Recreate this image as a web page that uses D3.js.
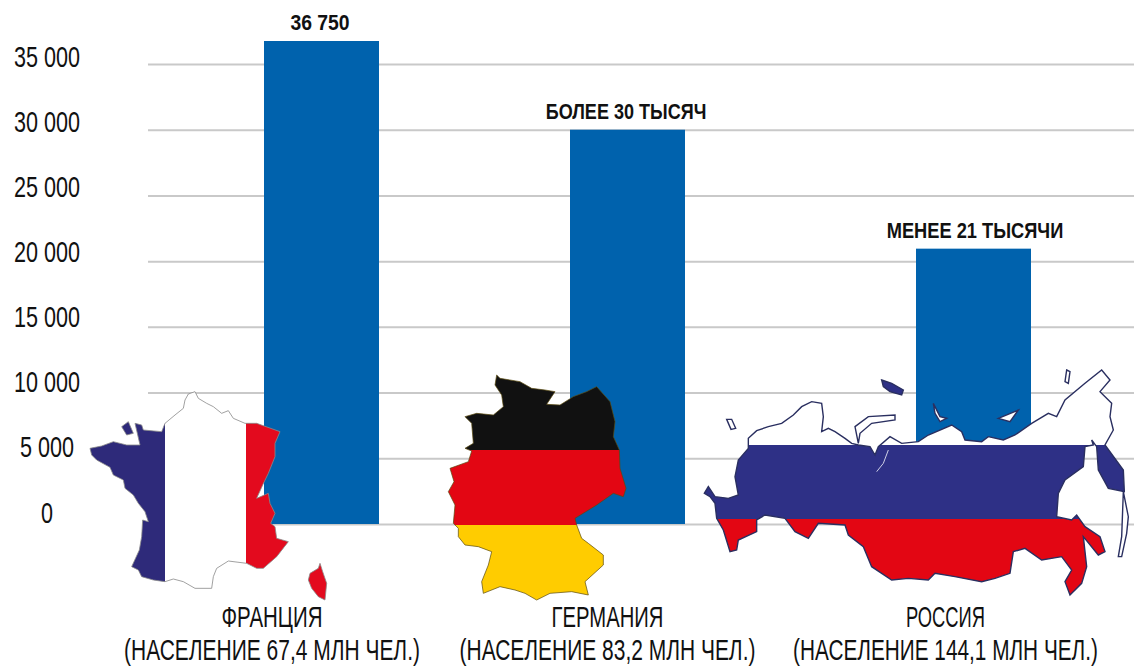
<!DOCTYPE html>
<html><head><meta charset="utf-8">
<script src="https://cdnjs.cloudflare.com/ajax/libs/d3/7.8.5/d3.min.js"></script>
<style>html,body{margin:0;padding:0;background:#fff}svg{display:block}text{font-family:"Liberation Sans",sans-serif}</style>
</head><body><svg id="c" width="1134" height="667"></svg>
<script>
const countries = ["ФРАНЦИЯ", "ГЕРМАНИЯ", "РОССИЯ"];
const population = ["(НАСЕЛЕНИЕ 67,4 МЛН ЧЕЛ.)", "(НАСЕЛЕНИЕ 83,2 МЛН ЧЕЛ.)", "(НАСЕЛЕНИЕ 144,1 МЛН ЧЕЛ.)"];
const values = [36750, 30000, 20950];
const valueLabels = ["36 750", "БОЛЕЕ 30 ТЫСЯЧ", "МЕНЕЕ 21 ТЫСЯЧИ"];
const tickValues = [0, 5000, 10000, 15000, 20000, 25000, 30000, 35000];

const franceOutline = [[345,35],[325,42],[315,60],[310,85],[285,105],[255,130],[245,155],[190,150],[185,135],[165,130],[172,160],[180,195],[140,195],[100,185],[65,198],[30,205],[35,225],[50,240],[90,262],[100,285],[130,300],[135,325],[160,345],[175,370],[195,395],[205,425],[188,420],[185,470],[178,510],[155,560],[175,570],[185,590],[220,600],[255,605],[280,597],[310,605],[345,625],[395,625],[400,590],[410,565],[445,543],[500,550],[530,565],[550,565],[590,530],[625,485],[590,475],[585,440],[572,430],[585,400],[570,370],[565,340],[530,355],[548,315],[565,280],[585,230],[585,190],[600,155],[530,130],[495,130],[460,115],[445,92],[425,100],[400,80],[380,70],[355,55]];
const corsica = [[720,550],[728,575],[740,610],[735,660],[715,650],[695,625],[685,600],[690,580],[715,565]];
const channelIsles = [[125,140],[145,125],[160,160],[140,165]];
const germanyOutline = [[170,30],[165,60],[185,90],[190,125],[160,150],[110,145],[75,155],[95,175],[100,235],[75,250],[95,258],[85,290],[30,310],[42,350],[25,380],[45,420],[40,475],[55,490],[55,515],[75,540],[115,545],[155,560],[145,600],[125,650],[130,685],[180,665],[225,675],[255,685],[290,705],[330,685],[395,680],[445,690],[435,650],[490,600],[490,570],[445,535],[425,520],[410,480],[405,460],[470,420],[520,385],[550,395],[558,370],[540,310],[538,255],[520,215],[525,170],[510,110],[470,65],[440,80],[400,95],[360,120],[320,118],[345,80],[315,75],[275,70],[240,50],[180,40]];
const russiaOutline = [[160,255],[160,235],[185,212],[220,200],[260,190],[295,165],[320,140],[350,125],[380,130],[385,170],[380,215],[400,205],[420,215],[450,235],[470,250],[490,255],[525,260],[540,285],[550,260],[585,230],[620,250],[670,245],[700,225],[770,195],[800,215],[810,240],[860,245],[880,230],[925,240],[960,225],[1010,190],[1060,160],[1085,170],[1110,120],[1170,70],[1220,30],[1245,60],[1215,95],[1250,130],[1245,170],[1255,210],[1230,255],[1285,330],[1288,395],[1240,385],[1210,330],[1205,260],[1190,240],[1195,255],[1170,260],[1165,320],[1110,360],[1090,400],[1085,470],[1130,480],[1145,465],[1170,500],[1215,530],[1230,575],[1210,585],[1165,530],[1175,620],[1160,670],[1125,705],[1110,665],[1130,630],[1100,590],[1040,600],[990,565],[955,575],[945,640],[900,655],[860,665],[780,650],[720,640],[700,660],[640,655],[590,660],[530,620],[505,560],[460,525],[450,495],[370,490],[340,535],[300,515],[270,475],[210,465],[185,480],[185,515],[130,540],[125,570],[105,575],[85,510],[65,475],[60,430],[45,410],[28,400],[40,380],[60,410],[100,415],[130,405],[120,350],[130,300],[160,265]];
const kamchatkaTail = [[1285,395],[1300,470],[1295,520],[1280,590],[1270,590],[1280,530]];
const novayaZemlya = [[480,200],[520,170],[600,165],[600,180],[530,190],[495,220],[490,250]];
const franzIsland = [[560,60],[590,70],[625,90],[620,105],[585,95],[565,80]];
const arcticIslandsA = [[715,130],[735,170],[755,175],[735,185],[720,160]];
const arcticIslandsB = [[910,175],[970,150],[945,185]];
const wrangel = [[1115,30],[1125,35],[1120,70],[1110,65]];
const kolguev = [[95,178],[110,178],[122,205],[108,208]];
const obGulf = [[545,335],[565,310],[580,270]];

const svg = d3.select("#c");
const y = d3.scaleLinear().domain([0, 35000]).range([524, 64]);
const yLabel = d3.scaleLinear().domain([0, 35000]).range([522, 66]);
const barCenter = d3.scaleOrdinal().domain(countries).range([321.5, 627.5, 973.5]);
const labelCenter = d3.scaleOrdinal().domain(countries).range([272, 607.5, 945.5]);
const fmt = v => d3.format(",")(v).replace(/,/g, " ");

// axis & grid
const ax = svg.append("g").attr("transform", "translate(148,0)")
  .call(d3.axisLeft(y).tickValues(tickValues).tickFormat(fmt).tickSize(-986));
ax.select(".domain").remove();
ax.selectAll(".tick line").attr("stroke", "#c9c9c9").attr("stroke-width", 2);
ax.selectAll(".tick text").attr("x", 0).attr("dy", 0).attr("y", 0)
  .attr("transform", d => `translate(-101,${yLabel(d) - y(d)}) scale(0.72,1)`)
  .attr("text-anchor", "middle").attr("fill", "#111").style("font-size", "30px")
  .attr("font-family", null);

// bars
svg.append("g").selectAll("rect").data(countries).join("rect")
  .attr("x", d => barCenter(d) - 57.5).attr("width", 115)
  .attr("y", (d, i) => y(values[i])).attr("height", (d, i) => y(0) - y(values[i]))
  .attr("fill", "#0062ad");

// flag-coloured maps
const line = d3.line().curve(d3.curveLinear);
function place(pts, ox, oy) { return pts.map(p => [ox + p[0] / 3, oy + p[1] / 3]); }
const shapePath = (pts, ox, oy) => line(place(pts, ox, oy)) + "Z";
const defs = svg.append("defs");
function flagMap(id, shapes, ox, oy, stripes, stroke) {
  const d = shapes.map(s => shapePath(s, ox, oy)).join("");
  defs.append("clipPath").attr("id", id).append("path").attr("d", d);
  const g = svg.append("g");
  g.append("g").attr("clip-path", `url(#${id})`).selectAll("rect").data(stripes).join("rect")
    .attr("x", s => s.x0).attr("y", s => s.y0)
    .attr("width", s => s.x1 - s.x0).attr("height", s => s.y1 - s.y0).attr("fill", s => s.c);
  return g.append("path").attr("d", d).attr("fill", "none").attr("stroke", stroke).attr("stroke-width", 1);
}
flagMap("fr", [franceOutline, corsica, channelIsles], 80, 380, [
  {x0:80, x1:165, y0:380, y1:610, c:"#2e2a7a"},
  {x0:165, x1:246, y0:380, y1:610, c:"#fff"},
  {x0:246, x1:340, y0:380, y1:610, c:"#e30a1e"}], "#8a8a8a")
  .attr("stroke-opacity", .8);
flagMap("de", [germanyOutline], 440, 365, [
  {x0:440, x1:700, y0:365, y1:450, c:"#111"},
  {x0:440, x1:700, y0:450, y1:525, c:"#e30613"},
  {x0:440, x1:700, y0:525, y1:610, c:"#ffcc00"}], "#5a4a10").attr("stroke-opacity", .7);
flagMap("ru", [russiaOutline], 695, 360, [
  {x0:695, x1:1134, y0:360, y1:445, c:"#fff"},
  {x0:695, x1:1134, y0:445, y1:519, c:"#2e3086"},
  {x0:695, x1:1134, y0:519, y1:610, c:"#e30613"}], "#2a2f60").attr("stroke-width", 1.4);
const extra = [
  {p: kamchatkaTail, f: "#fff"},
  {p: novayaZemlya, f: "#fff"},
  {p: franzIsland, f: "#2e3086"},
  {p: arcticIslandsA, f: "#fff"},
  {p: arcticIslandsB, f: "#fff"},
  {p: wrangel, f: "#fff"},
  {p: kolguev, f: "#fff"}];
svg.append("g").selectAll("path").data(extra).join("path")
  .attr("d", e => shapePath(e.p, 695, 360)).attr("fill", e => e.f).attr("stroke", "#2a2f60").attr("stroke-width", 1.4);
svg.append("path").attr("d", line(place(obGulf, 695, 360))).attr("fill", "none").attr("stroke", "#cfd0e6");

// value labels
const valueScale = [0.88, 0.82, 0.83];
const valueX = [320, 626, 975];
svg.append("g").selectAll("text").data(countries).join("text")
  .attr("transform", (d, i) => `translate(${valueX[i]},${y(values[i]) - 11}) scale(${valueScale[i]},1)`)
  .attr("text-anchor", "middle").attr("font-weight", "bold").attr("font-size", 22).attr("fill", "#111")
  .text((d, i) => valueLabels[i]);

// category labels (horizontally condensed)
const nameWidth = [101, 112, 79];
const popWidth = [296, 296, 305];
const cat = svg.append("g").attr("text-anchor", "middle").attr("font-size", 29).attr("fill", "#111");
function condensed(sel, yPos, widths) {
  sel.each(function (d, i) {
    const k = widths[i] / this.getComputedTextLength();
    d3.select(this).attr("transform", `translate(${labelCenter(d)},${yPos}) scale(${k},1)`);
  });
}
cat.selectAll("text.n").data(countries).join("text").attr("class", "n")
  .text(d => d).call(condensed, 627, nameWidth);
cat.selectAll("text.p").data(countries).join("text").attr("class", "p")
  .text((d, i) => population[i]).call(condensed, 660, popWidth);
</script></body></html>
